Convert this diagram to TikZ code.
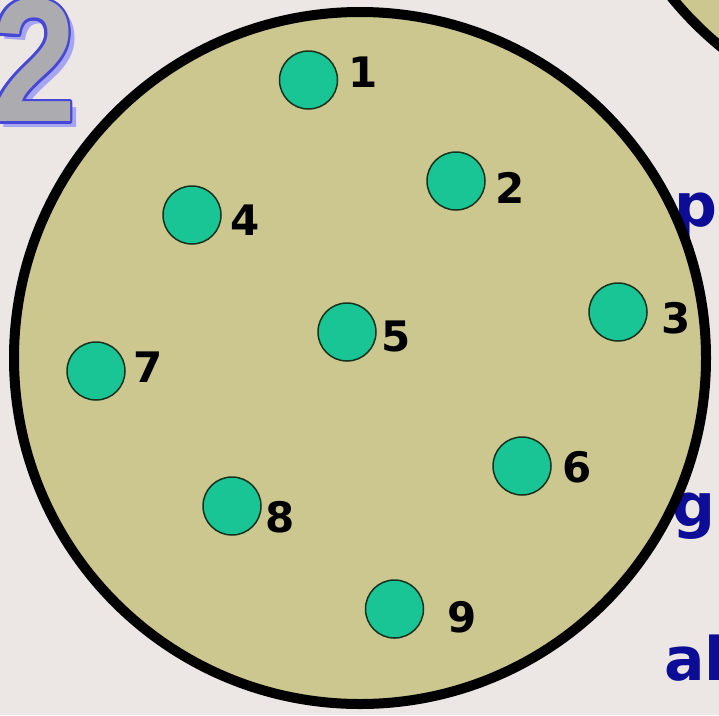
\documentclass[tikz,border=0pt]{standalone}
\usepackage{fontspec}
\usetikzlibrary{calc}
\newfontfamily\digitfont{DejaVu Sans}
\newfontfamily\bigfont{Liberation Sans}
\newfontfamily\bluefont{DejaVu Sans}
\definecolor{bgcol}{RGB}{236,231,229}
\definecolor{fieldcol}{RGB}{203,199,142}
\definecolor{dotcol}{RGB}{25,197,148}
\definecolor{dotedge}{RGB}{20,50,30}
\definecolor{textblue}{RGB}{12,12,150}
\definecolor{twogray}{RGB}{172,172,176}
\definecolor{twoblue}{RGB}{70,70,215}
\definecolor{twoshadow}{RGB}{165,165,240}
\tikzset{
  dot/.style={circle, fill=dotcol, draw=dotedge, line width=1.5pt, minimum size=58pt, inner sep=0pt},
  num/.style={inner sep=0pt, font=\digitfont\bfseries\fontsize{42}{42}\selectfont},
  bluetxt/.style={inner sep=0pt, anchor=base west, text=textblue, font=\bluefont\bfseries\fontsize{60}{60}\selectfont},
  bigtwo/.style={inner sep=0pt, anchor=south west, font=\bigfont\bfseries\fontsize{176}{176}\selectfont, xscale=0.86},
  field/.style={fill=fieldcol, draw=black, line width=10pt}
}
\begin{document}
\begin{tikzpicture}[x=1pt,y=-1pt]
\useasboundingbox (0,0) rectangle (719,715);
\clip (0,0) rectangle (719,715);
\fill[bgcol] (0,0) rectangle (719,715);
% partial words behind the circles
\node[bluetxt] (wp) at (674,226) {pe};
\node[bluetxt] (wg) at (672,526) {g};
\node[bluetxt] (wal) at (664,680) {al};
% big number 2 : shadow, outline, fill
\node[bigtwo, text=twoshadow] (twoshadow) at (-2,128) {2};
\foreach \a [count=\i] in {0,30,...,330}
  \node[bigtwo, text=twoblue] (twoedge\i) at ($(-8,122)+(\a:2.6)$) {2};
\node[bigtwo, text=twogray] (two) at (-8,122) {2};
% other circle at top right
\draw[field] (940,-221) circle (346);
% main circle
\draw[field] (360,358) circle (346);
% dots
\node[dot] (d1) at (308.5,80) {};
\node[dot] (d2) at (456,181) {};
\node[dot] (d3) at (618,312) {};
\node[dot] (d4) at (192,215) {};
\node[dot] (d5) at (347,332) {};
\node[dot] (d6) at (522,466) {};
\node[dot] (d7) at (96,371) {};
\node[dot] (d8) at (232,506) {};
\node[dot] (d9) at (394.5,609) {};
% labels
\node[num] (l1) at (363,72) {1};
\node[num] (l2) at (510,188) {2};
\node[num] (l3) at (676,318) {3};
\node[num] (l4) at (245,220) {4};
\node[num] (l5) at (396,336) {5};
\node[num] (l6) at (577,467) {6};
\node[num] (l7) at (148,367) {7};
\node[num] (l8) at (280,517) {8};
\node[num] (l9) at (462,617) {9};
\end{tikzpicture}
\end{document}
